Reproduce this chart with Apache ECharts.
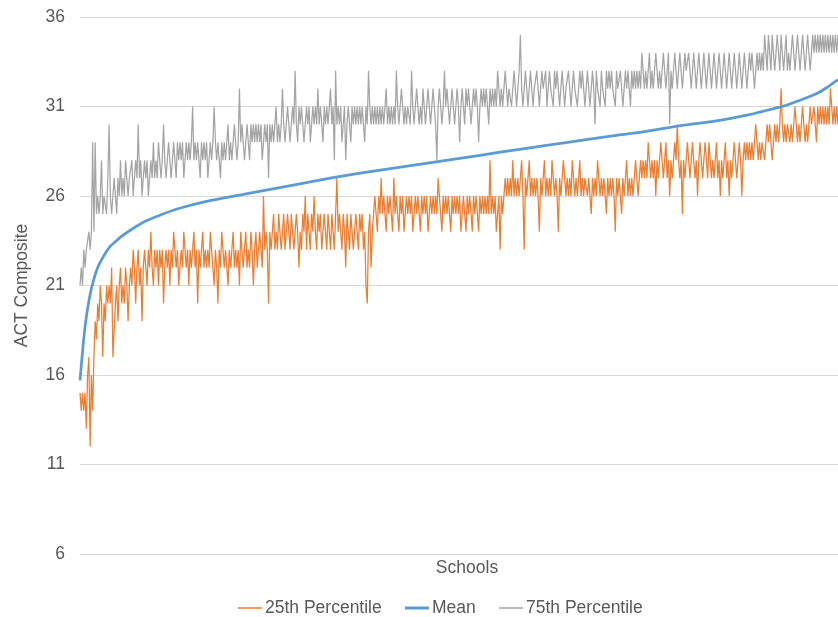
<!DOCTYPE html>
<html><head><meta charset="utf-8">
<script src="https://cdn.jsdelivr.net/npm/echarts@6/dist/echarts.min.js"></script>
<style>html,body{margin:0;padding:0;background:#fff}#c{width:838px;height:617px}</style>
</head><body><div id="c"></div>
<script>
// ACT Composite by school (schools sorted by mean)
const seriesNames = ['25th Percentile', 'Mean', '75th Percentile'];
const yMin = 6, yMax = 36, yStep = 5;

const p25 = [
15,14,15,14,15,13,16,17,12,16,14,17,19,18,20,19,21,20,17,20,
19,21,20,21,20,22,17,17,20,21,19,21,22,20,21,20,22,21,19,21,
22,21,23,22,20,22,23,21,22,19,22,23,22,21,23,22,24,22,21,23,
22,23,21,23,22,23,20,22,23,22,23,21,23,22,24,23,22,23,21,22,
23,22,24,23,22,23,21,23,22,23,24,22,23,20,23,22,23,24,22,23,
22,23,22,24,23,22,21,23,22,20,23,22,24,23,22,23,22,21,23,22,
23,24,22,23,22,23,21,24,23,22,23,24,22,23,22,24,23,21,23,24,
22,23,24,23,22,26,23,24,23,20,24,23,24,25,23,24,23,25,24,23,
24,25,23,24,25,24,23,25,24,23,24,25,24,22,24,23,25,24,26,23,
25,24,23,25,24,26,24,23,25,24,25,23,24,25,24,23,25,24,23,25,
24,23,25,27,24,25,24,23,25,24,22,25,24,23,25,24,23,24,25,24,
23,25,24,25,23,24,21,20,24,25,22,24,25,26,25,24,26,25,27,25,
26,25,24,26,25,26,25,24,27,25,26,25,24,26,25,26,24,25,26,25,
26,25,26,24,25,26,25,26,25,24,26,25,26,25,26,24,25,26,25,26,
25,26,25,27,26,25,24,26,25,26,25,26,25,24,26,25,26,25,26,25,
26,24,25,26,25,24,26,25,26,25,24,26,25,26,25,24,26,25,26,25,
26,25,26,25,28,25,26,25,26,24,25,26,23,26,25,26,27,26,27,26,
27,26,28,26,27,26,27,26,27,28,26,23,27,26,27,28,26,27,26,27,
26,27,26,24,27,26,27,28,26,27,26,27,26,28,27,26,27,26,24,27,
26,27,28,27,26,27,26,27,26,28,27,26,27,26,27,28,26,27,26,27,
27,26,27,26,25,27,26,27,26,28,27,26,27,26,27,26,25,27,26,27,
26,27,26,24,27,26,27,26,25,27,26,27,28,26,27,26,27,26,27,28,
27,26,27,28,27,28,27,28,27,29,28,27,28,27,28,26,28,27,28,29,
28,27,28,29,27,28,26,28,27,28,29,28,30,28,27,28,25,28,27,28,
29,28,27,28,29,28,27,28,26,28,29,28,27,28,29,28,27,29,28,27,
28,27,28,29,27,28,26,28,27,28,29,27,28,26,28,27,28,29,28,27,
28,29,28,26,28,29,28,29,28,29,28,29,28,29,30,29,28,29,28,29,
29,28,29,30,29,30,29,28,29,30,29,30,29,30,32,30,29,30,29,30,
30,29,30,29,30,31,30,29,30,29,30,31,30,29,30,29,30,31,30,30,
31,30,29,31,30,31,30,31,30,31,30,31,30,32,31,30,31,30,31,30
];

const p75 = [
21,22,21,23,22,23,23,24,23,24,29,24,29,25,26,25,26,28,25,26,
26,25,27,30,26,25,26,27,26,25,27,26,28,26,27,26,28,27,26,27,
27,28,26,27,28,27,30,27,28,26,27,28,27,28,26,27,28,27,29,27,
28,27,29,28,27,28,30,28,27,28,29,28,27,28,29,28,27,29,28,29,
28,29,27,28,29,28,29,28,29,31,28,29,28,29,28,27,29,28,29,28,
29,27,28,29,28,29,31,29,28,29,28,27,29,28,29,28,29,30,28,29,
28,29,30,29,28,29,32,29,30,29,28,29,30,29,28,30,29,30,29,30,
29,30,29,30,28,29,30,29,30,27,30,29,30,29,30,31,29,30,29,30,
32,30,29,30,31,30,29,30,31,30,33,30,29,31,30,31,30,29,30,31,
30,31,29,30,31,30,31,30,32,30,31,30,29,31,30,31,30,31,32,30,
31,28,33,30,31,30,31,29,30,31,28,30,31,30,29,31,30,31,30,31,
30,31,30,31,30,29,31,30,33,31,30,31,30,31,30,31,30,31,30,31,
30,31,32,30,31,30,31,30,31,30,33,31,30,31,32,31,30,31,30,31,
31,30,33,31,30,31,32,31,30,31,30,32,31,30,31,32,31,30,31,32,
31,30,28,31,32,31,30,31,33,31,32,31,30,31,32,31,30,31,32,31,
29,31,32,31,30,32,31,32,31,30,31,32,31,32,31,29,31,32,31,32,
31,32,31,30,32,31,32,31,32,31,33,32,31,32,31,32,33,32,31,32,
32,31,32,33,32,31,32,33,35,32,31,32,33,32,31,32,33,32,31,32,
32,33,32,31,32,33,32,32,33,31,32,33,32,32,31,33,32,33,32,31,
32,33,32,31,32,32,33,32,31,32,33,32,32,31,32,33,32,33,32,31,
32,33,32,31,32,33,32,30,33,32,32,31,33,32,32,31,33,32,33,32,
33,32,32,31,33,32,32,33,32,31,32,33,32,33,32,31,33,32,33,32,
33,32,33,32,34,33,32,33,32,33,34,32,33,32,33,34,33,32,33,32,
33,34,33,32,33,34,30,33,32,33,34,33,32,33,34,33,32,33,34,33,
33,34,33,32,33,34,33,32,33,34,33,32,33,34,33,32,33,34,33,32,
33,34,33,32,33,34,33,32,33,34,33,32,33,34,33,32,33,34,33,32,
33,34,33,32,33,34,33,32,33,34,33,34,33,32,33,34,33,34,33,34,
33,35,34,33,35,34,33,35,34,33,34,35,34,33,35,34,33,34,35,33,
34,33,34,35,34,33,34,35,34,33,34,35,34,33,34,35,34,33,34,35,
34,35,34,35,34,35,34,35,34,35,34,35,34,35,34,35,34,35,34,35
];

// mean: school index -> mean score
const meanIdx = [0,2,4,6,8,10,12,14,16,20,24,28,32,40,52,64,78,100,130,160,202,228,252,300,332,371,400,425,446,476,503,529,549,555,569,583,591,599];
const meanVal = [15.7,17.3,18.7,19.7,20.5,21.1,21.6,22.0,22.3,22.8,23.2,23.45,23.7,24.1,24.6,24.95,25.3,25.7,26.1,26.5,27.05,27.35,27.6,28.1,28.45,28.85,29.15,29.4,29.6,29.95,30.2,30.55,30.9,31.0,31.35,31.75,32.1,32.5];

const colors = ['#ED7D31', '#5B9BD5', '#A5A5A5'];
const txt = '#595959';
const font = 'Liberation Sans, Arial, sans-serif';
const legendLeft = [233, 400, 494];
const legendIconH = [1.5, 3, 1.5];

const chart = echarts.init(document.getElementById('c'), null, {renderer: 'canvas'});
chart.setOption({
  animation: false,
  backgroundColor: '#fff',
  textStyle: {fontFamily: font},
  grid: {left: 80, right: 0, top: 17, bottom: 63, containLabel: false},
  legend: seriesNames.map((n, k) => ({
    data: [{name: n, icon: 'rect'}],
    left: legendLeft[k], top: 594,
    itemWidth: 24, itemHeight: legendIconH[k], itemGap: 0,
    textStyle: {color: txt, fontSize: 17.5, fontFamily: font, padding: [0, 0, 0, -2]}
  })),
  xAxis: {
    type: 'value', min: 0, max: p25.length - 1,
    name: 'Schools', nameLocation: 'middle', nameGap: 5,
    nameTextStyle: {color: txt, fontSize: 17.5, fontFamily: font, verticalAlign: 'top', padding: [0, 0, 0, 16]},
    axisLine: {show: false}, axisTick: {show: false}, axisLabel: {show: false}, splitLine: {show: false}
  },
  yAxis: {
    type: 'value', min: yMin, max: yMax, interval: yStep,
    name: 'ACT Composite', nameLocation: 'middle', nameGap: 49,
    nameTextStyle: {color: txt, fontSize: 17.5, fontFamily: font},
    axisLine: {show: false}, axisTick: {show: false},
    axisLabel: {color: txt, fontSize: 17.5, margin: 15, fontFamily: font},
    splitLine: {lineStyle: {color: '#d9d9d9', width: 1}}
  },
  series: [
    {name: seriesNames[0], type: 'line', showSymbol: false, symbol: 'none',
     data: p25.map((v, i) => [i, v]), lineStyle: {color: colors[0], width: 1.25}, itemStyle: {color: colors[0]}},
    {name: seriesNames[1], type: 'line', showSymbol: false, symbol: 'none', smooth: 0.3,
     data: meanIdx.map((x, k) => [x, meanVal[k]]), lineStyle: {color: colors[1], width: 2.75}, itemStyle: {color: colors[1]}, z: 3},
    {name: seriesNames[2], type: 'line', showSymbol: false, symbol: 'none',
     data: p75.map((v, i) => [i, v]), lineStyle: {color: colors[2], width: 1.25}, itemStyle: {color: colors[2]}}
  ]
});
</script>
</body></html>
